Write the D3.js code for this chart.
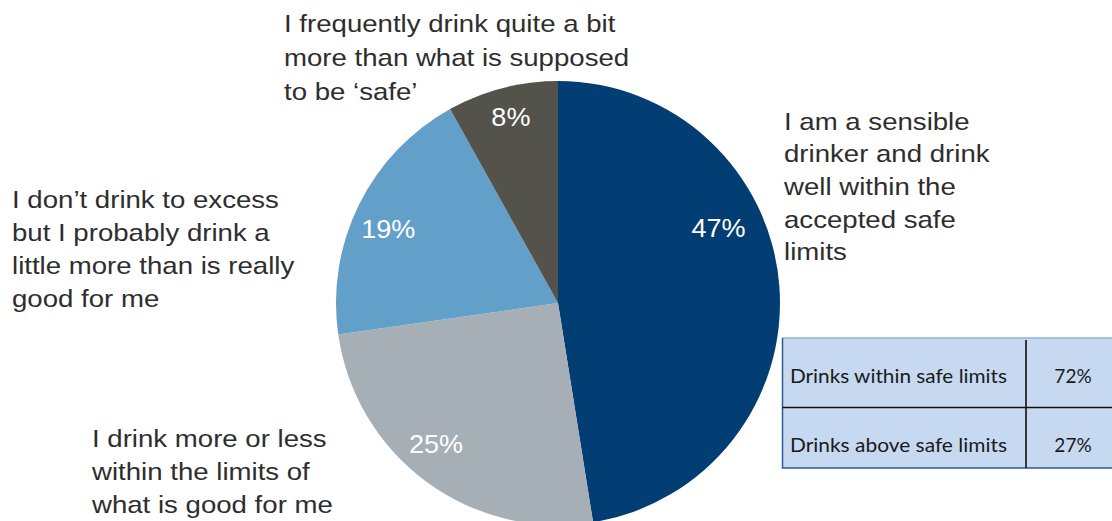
<!DOCTYPE html>
<html>
<head>
<meta charset="utf-8">
<script src="https://cdn.jsdelivr.net/npm/d3@7"></script>
<style>
  html, body { margin: 0; padding: 0; background: #ffffff; }
  svg { display: block; }
</style>
</head>
<body>
<svg id="chart" width="1112" height="521"></svg>
<script>
// Survey answers: how people describe their own drinking
const categories = [
  "I am a sensible drinker and drink well within the accepted safe limits",
  "I drink more or less within the limits of what is good for me",
  "I don\u2019t drink to excess but I probably drink a little more than is really good for me",
  "I frequently drink quite a bit more than what is supposed to be \u2018safe\u2019"
];
const shares = [47, 25, 19, 8];
const valueLabels = ["47%", "25%", "19%", "8%"];

// Wrapped category labels as they are set beside the pie
const labelLines = [
  ["I am a sensible", "drinker and drink", "well within the", "accepted safe", "limits"],
  ["I drink more or less", "within the limits of", "what is good for me"],
  ["I don\u2019t drink to excess", "but I probably drink a", "little more than is really", "good for me"],
  ["I frequently drink quite a bit", "more than what is supposed", "to be \u2018safe\u2019"]
];

// Summary table
const summaryRows = ["Drinks within safe limits", "Drinks above safe limits"];
const summaryValues = ["72%", "27%"];

const colors = ["#023d73", "#a6aeb6", "#629fc9", "#54534b"];

const svg = d3.select("#chart");

// ---- Pie ----
const cx = 558, cy = 303, radius = 222;
const pie = d3.pie().sort(null).value(d => d)(shares);
const arc = d3.arc().innerRadius(0).outerRadius(radius);

const g = svg.append("g").attr("transform", `translate(${cx},${cy})`);
g.selectAll("path.slice")
  .data(pie)
  .join("path")
  .attr("class", "slice")
  .attr("d", arc)
  .attr("fill", (d, i) => colors[i]);

// Value labels inside slices, placed at a per-slice polar offset
const valuePlacement = [
  { angle: 65.0, dist: 177 },   // 47%
  { angle: 221.0, dist: 186 },  // 25%
  { angle: 293.5, dist: 185 },  // 19%
  { angle: 345.8, dist: 192 }   // 8%
];
g.selectAll("text.value")
  .data(pie)
  .join("text")
  .attr("class", "value")
  .attr("transform", (d, i) => {
    const a = valuePlacement[i].angle * Math.PI / 180;
    const x = Math.sin(a) * valuePlacement[i].dist;
    const y = -Math.cos(a) * valuePlacement[i].dist;
    return `translate(${x},${y}) scale(1.06,1)`;
  })
  .attr("dy", "0.36em")
  .attr("text-anchor", "middle")
  .attr("font-family", "Liberation Sans, Arial, sans-serif")
  .attr("font-size", 25.5)
  .attr("fill", "#ffffff")
  .text((d, i) => valueLabels[i]);

// ---- Category labels (set slightly wide) ----
const labelPlacement = [
  { x: 784, y: 129.5, step: 32.75 },
  { x: 92, y: 447, step: 33 },
  { x: 12, y: 208, step: 33 },
  { x: 284, y: 32, step: 34 }
];
labelLines.forEach((lines, i) => {
  const p = labelPlacement[i];
  const t = svg.append("text")
    .attr("transform", `translate(${p.x},${p.y}) scale(1.15,1)`)
    .attr("font-family", "Liberation Sans, Arial, sans-serif")
    .attr("font-size", 24)
    .attr("fill", "#2e2e2e");
  lines.forEach((ln, k) => {
    t.append("tspan")
      .attr("x", 0)
      .attr("y", k * p.step)
      .text(ln);
  });
});

// ---- Summary table ----
const tbl = { x: 782.5, y: 338, w: 340, h: 130, splitX: 1026, splitY: 407.5 };
const tg = svg.append("g");
tg.append("rect")
  .attr("x", tbl.x).attr("y", tbl.y)
  .attr("width", tbl.w).attr("height", tbl.h)
  .attr("fill", "#c6d9f1");
// top border (light)
tg.append("line")
  .attr("x1", tbl.x).attr("x2", tbl.x + tbl.w)
  .attr("y1", tbl.y).attr("y2", tbl.y)
  .attr("stroke", "#8fb0d6").attr("stroke-width", 1.5);
// left and bottom borders (dark blue)
tg.append("path")
  .attr("d", `M${tbl.x},${tbl.y} V${tbl.y + tbl.h} H${tbl.x + tbl.w}`)
  .attr("fill", "none")
  .attr("stroke", "#2f5a96").attr("stroke-width", 1.5);
// row divider
tg.append("line")
  .attr("x1", tbl.x).attr("x2", tbl.x + tbl.w)
  .attr("y1", tbl.splitY).attr("y2", tbl.splitY)
  .attr("stroke", "#111111").attr("stroke-width", 1.6);
// column divider
tg.append("line")
  .attr("x1", tbl.splitX).attr("x2", tbl.splitX)
  .attr("y1", 340).attr("y2", tbl.y + tbl.h)
  .attr("stroke", "#111111").attr("stroke-width", 1.6);

const rowBase = [383, 452];
tg.selectAll("text.rowlabel")
  .data(summaryRows)
  .join("text")
  .attr("class", "rowlabel")
  .attr("x", 790)
  .attr("y", (d, i) => rowBase[i])
  .attr("font-family", "Lato, Carlito, Calibri, sans-serif")
  .attr("font-size", 19)
  .attr("fill", "#1a1a1a")
  .attr("textLength", 217)
  .attr("lengthAdjust", "spacingAndGlyphs")
  .text(d => d);
tg.selectAll("text.rowvalue")
  .data(summaryValues)
  .join("text")
  .attr("class", "rowvalue")
  .attr("x", 1073)
  .attr("y", (d, i) => rowBase[i])
  .attr("text-anchor", "middle")
  .attr("font-family", "Lato, Carlito, Calibri, sans-serif")
  .attr("font-size", 19)
  .attr("fill", "#1a1a1a")
  .text(d => d);
</script>
</body>
</html>
